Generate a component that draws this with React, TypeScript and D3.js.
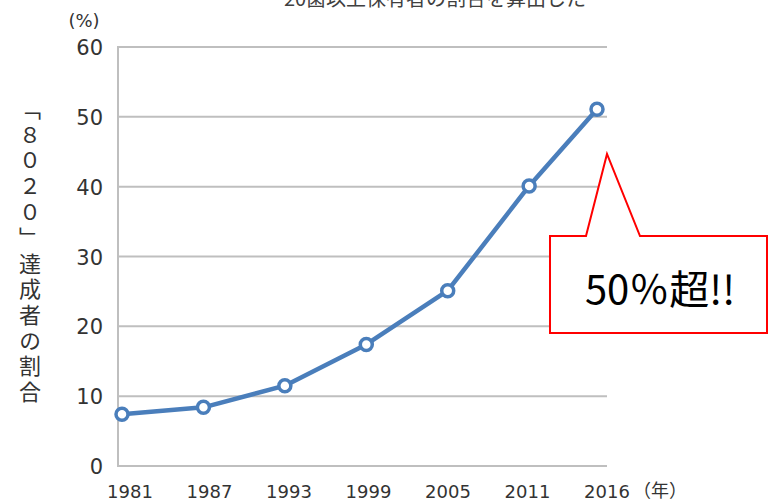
import React, { useRef, useEffect } from 'react';
import * as d3 from 'd3';

const years = [1981, 1987, 1993, 1999, 2005, 2011, 2016];
const rates = [7.4, 8.4, 11.5, 17.4, 25.1, 40.1, 51.1];
const yTicks = [0, 10, 20, 30, 40, 50, 60];
const yTitle = '「８０２０」達成者の割合';

const W = 781;
const H = 503;
const JP = '"Noto Sans CJK JP", "Noto Sans", sans-serif';
const NUM = '"DejaVu Sans", sans-serif';

const App: React.FC = () => {
  const svgRef = useRef<SVGSVGElement>(null);

  useEffect(() => {
    if (!svgRef.current) return;
    const svg = d3.select(svgRef.current);
    svg.selectAll('*').remove();

    const plot = { left: 118, right: 607, top: 47, bottom: 466 };

    const x = d3.scaleLinear().domain([1981, 2016]).range([122, 597]);
    const xLabel = d3.scalePoint<number>().domain(years).range([130, 607]);
    const y = d3.scaleLinear().domain([0, 60]).range([plot.bottom, plot.top]);

    svg.append('rect').attr('width', W).attr('height', H).attr('fill', '#fff');

    // subtitle, cut by the top edge like the source
    svg.append('text')
      .attr('x', 435).attr('y', 6)
      .attr('text-anchor', 'middle')
      .attr('font-family', JP).attr('font-size', 20).attr('fill', '#404040')
      .text('20歯以上保有者の割合を算出した');

    // grid
    svg.append('g').selectAll('line')
      .data(yTicks.filter(t => t > 0))
      .enter().append('line')
      .attr('x1', plot.left).attr('x2', plot.right)
      .attr('y1', d => y(d)).attr('y2', d => y(d))
      .attr('stroke', '#bfbfbf').attr('stroke-width', 2);

    // axes lines
    svg.append('line')
      .attr('x1', plot.left).attr('x2', plot.left)
      .attr('y1', plot.top - 1).attr('y2', plot.bottom + 1)
      .attr('stroke', '#bfbfbf').attr('stroke-width', 2);
    svg.append('line')
      .attr('x1', plot.left).attr('x2', plot.right)
      .attr('y1', plot.bottom).attr('y2', plot.bottom)
      .attr('stroke', '#bfbfbf').attr('stroke-width', 2);

    // y tick labels
    svg.append('g').selectAll('text')
      .data(yTicks)
      .enter().append('text')
      .attr('x', 103).attr('y', d => y(d) + 8)
      .attr('text-anchor', 'end')
      .attr('font-family', NUM).attr('font-size', 21).attr('fill', '#333')
      .text(d => String(d));

    svg.append('text')
      .attr('x', 84).attr('y', 27)
      .attr('text-anchor', 'middle')
      .attr('font-family', NUM).attr('font-size', 18).attr('fill', '#333')
      .text('(%)');

    // x tick labels
    svg.append('g').selectAll('text')
      .data(years)
      .enter().append('text')
      .attr('x', d => xLabel(d) as number).attr('y', 498)
      .attr('text-anchor', 'middle')
      .attr('font-family', NUM).attr('font-size', 18).attr('fill', '#333')
      .text(d => String(d));

    svg.append('text')
      .attr('x', 660).attr('y', 497)
      .attr('text-anchor', 'middle')
      .attr('font-family', JP).attr('font-size', 18).attr('fill', '#333')
      .text('（年）');

    // vertical y title
    svg.append('text')
      .attr('x', 30).attr('y', 98)
      .style('writing-mode', 'vertical-rl')
      .style('text-orientation', 'upright')
      .attr('font-family', JP).attr('font-size', 22)
      .attr('letter-spacing', 3.7)
      .attr('fill', '#333')
      .text(yTitle);

    // line
    const line = d3.line<number>()
      .x((_, i) => x(years[i]))
      .y(d => y(d));
    svg.append('path')
      .datum(rates)
      .attr('d', line)
      .attr('fill', 'none')
      .attr('stroke', '#4a7ebb')
      .attr('stroke-width', 4.5)
      .attr('stroke-linejoin', 'round');

    svg.append('g').selectAll('circle')
      .data(rates)
      .enter().append('circle')
      .attr('cx', (_, i) => x(years[i]))
      .attr('cy', d => y(d))
      .attr('r', 6)
      .attr('fill', '#fff')
      .attr('stroke', '#4a7ebb')
      .attr('stroke-width', 3.5);

    // callout
    const box = { l: 550, r: 767, t: 236, b: 333 };
    const tip = [607, 154];
    const callout = d3.path();
    callout.moveTo(box.l, box.t);
    callout.lineTo(586, box.t);
    callout.lineTo(tip[0], tip[1]);
    callout.lineTo(640, box.t);
    callout.lineTo(box.r, box.t);
    callout.lineTo(box.r, box.b);
    callout.lineTo(box.l, box.b);
    callout.closePath();
    svg.append('path')
      .attr('d', callout.toString())
      .attr('fill', '#fff')
      .attr('stroke', '#ff0000')
      .attr('stroke-width', 2);
    svg.append('text')
      .attr('x', 660).attr('y', 304)
      .attr('text-anchor', 'middle')
      .attr('font-family', JP).attr('font-size', 40).attr('fill', '#000')
      .text('50％超!!');
  }, []);

  return (
    <svg
      ref={svgRef}
      width={W}
      height={H}
      style={{ position: 'absolute', left: 0, top: 0, display: 'block' }}
    />
  );
};

export default App;
